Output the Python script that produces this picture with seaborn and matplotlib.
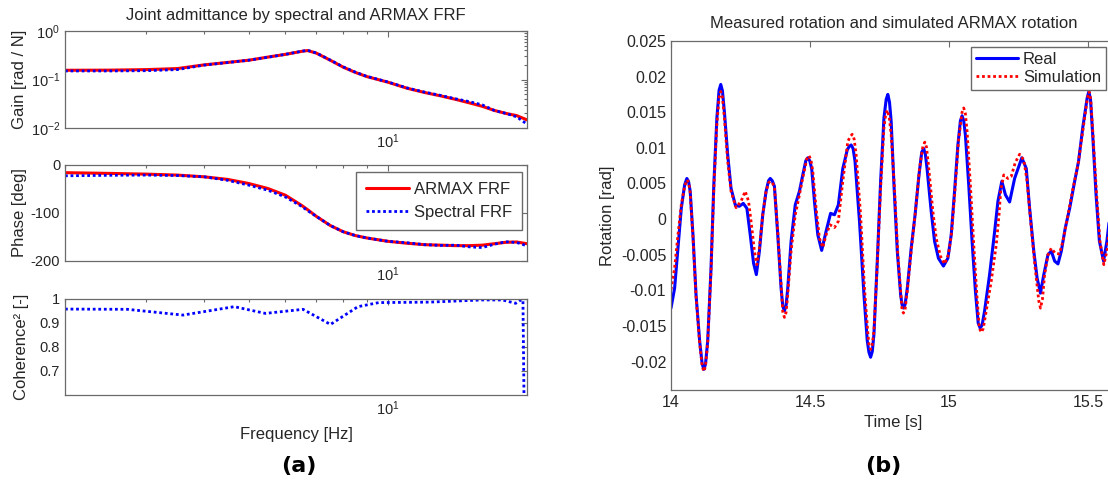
import numpy as np
import pandas as pd
import matplotlib
matplotlib.use("Agg")
import matplotlib.pyplot as plt
import seaborn as sns
from matplotlib.ticker import NullFormatter, FixedLocator, LogLocator

# ---------------- data ----------------
freq = [2, 2.5, 3, 3.5, 4, 4.5, 5, 5.5, 6, 6.5, 6.7, 7, 7.5, 8, 8.5, 9,
        10, 11, 12, 13, 14, 15, 16, 17, 18, 19, 20]
gain_armax = [0.155, 0.156, 0.160, 0.168, 0.200, 0.225, 0.250, 0.290, 0.330, 0.380, 0.395,
              0.350, 0.250, 0.180, 0.140, 0.115, 0.088, 0.066, 0.054, 0.046, 0.039,
              0.033, 0.028, 0.023, 0.020, 0.018, 0.0147]
gain_spec = [0.150, 0.150, 0.152, 0.160, 0.198, 0.224, 0.250, 0.288, 0.330, 0.382, 0.400,
             0.352, 0.252, 0.182, 0.142, 0.116, 0.089, 0.067, 0.055, 0.047, 0.040,
             0.035, 0.030, 0.023, 0.020, 0.017, 0.012]
phase_armax = [-16, -17.5, -19, -21, -24.6, -30, -38.6, -49, -63, -84, -93,
               -107, -126, -139, -147, -152, -159, -163, -166, -167, -168,
               -168, -167, -164, -161, -160.4, -164]
phase_spec = [-22.5, -21.5, -21, -22, -24.6, -32, -42, -52.6, -66.7, -86, -95,
              -107, -126, -139, -147, -152, -159, -162, -166, -167.5, -167,
              -170.5, -172, -165, -160, -161.4, -168.4]

coh_freq = [2.0, 2.73, 3.6, 4.65, 5.43, 6.55, 7.51, 8.61, 9.55, 12.3, 16.0, 17.7, 18.9,
            19.4, 19.6, 19.7]
coh_val = [0.958, 0.957, 0.933, 0.968, 0.940, 0.957, 0.894, 0.968, 0.985, 0.987, 0.996,
           0.996, 0.982, 0.996, 0.996, 0.600]

t_real = [14.000, 14.013, 14.025, 14.037, 14.049, 14.057, 14.063, 14.069, 14.079, 14.090, 14.103,
          14.112, 14.118, 14.124, 14.132, 14.144, 14.154, 14.165, 14.173, 14.179, 14.185, 14.192,
          14.204, 14.216, 14.232, 14.246, 14.260, 14.273, 14.285, 14.297, 14.307, 14.318, 14.330,
          14.342, 14.351, 14.357, 14.364, 14.372, 14.384, 14.396, 14.402, 14.408, 14.414, 14.420,
          14.432, 14.447, 14.462, 14.474, 14.485, 14.492, 14.499, 14.506, 14.516, 14.528, 14.542,
          14.558, 14.574, 14.588, 14.602, 14.618, 14.634, 14.641, 14.648, 14.655, 14.662, 14.678,
          14.694, 14.706, 14.712, 14.718, 14.724, 14.730, 14.742, 14.754, 14.766, 14.774, 14.780,
          14.786, 14.792, 14.802, 14.814, 14.826, 14.831, 14.836, 14.842, 14.850, 14.864, 14.878,
          14.892, 14.902, 14.909, 14.915, 14.921, 14.936, 14.948, 14.962, 14.980, 14.996, 15.008,
          15.020, 15.032, 15.041, 15.047, 15.053, 15.059, 15.071, 15.083, 15.095, 15.105, 15.112,
          15.119, 15.128, 15.146, 15.164, 15.176, 15.190, 15.203, 15.218, 15.236, 15.262, 15.278,
          15.290, 15.305, 15.317, 15.329, 15.341, 15.356, 15.368, 15.380, 15.392, 15.404, 15.418,
          15.434, 15.452, 15.466, 15.481, 15.497, 15.503, 15.509, 15.517, 15.529, 15.541, 15.556,
          15.568, 15.580]
rot_real = [-0.0125, -0.0097, -0.0041, 0.0015, 0.0048, 0.0057, 0.0053, 0.0039, -0.0022, -0.0106, -0.0171,
            -0.0203, -0.0211, -0.0204, -0.0171, -0.0069, 0.0048, 0.0142, 0.0181, 0.0189, 0.0180, 0.0151,
            0.0090, 0.0043, 0.0019, 0.0018, 0.0022, 0.0015, -0.0022, -0.0062, -0.0078, -0.0045, 0.0006,
            0.0039, 0.0054, 0.0057, 0.0054, 0.0046, -0.0022, -0.0097, -0.0122, -0.0129, -0.0121, -0.0097,
            -0.0031, 0.0020, 0.0039, 0.0062, 0.0082, 0.0086, 0.0082, 0.0071, 0.0025, -0.0022, -0.0044,
            -0.0017, 0.0008, 0.0006, 0.0020, 0.0071, 0.0097, 0.0102, 0.0104, 0.0099, 0.0081, -0.0003,
            -0.0106, -0.0171, -0.0187, -0.0194, -0.0186, -0.0162, -0.0059, 0.0053, 0.0142, 0.0168, 0.0175,
            0.0164, 0.0137, 0.0048, -0.0045, -0.0106, -0.0120, -0.0125, -0.0120, -0.0097, -0.0041, 0.0006,
            0.0062, 0.0094, 0.0099, 0.0091, 0.0071, 0.0011, -0.0031, -0.0055, -0.0066, -0.0055, -0.0022,
            0.0039, 0.0104, 0.0138, 0.0145, 0.0138, 0.0118, 0.0048, -0.0031, -0.0101, -0.0146, -0.0153,
            -0.0149, -0.0129, -0.0078, -0.0018, 0.0025, 0.0053, 0.0034, 0.0024, 0.0057, 0.0086, 0.0071,
            0.0015, -0.0045, -0.0083, -0.0104, -0.0078, -0.0050, -0.0045, -0.0059, -0.0063, -0.0045, -0.0013,
            0.0015, 0.0053, 0.0081, 0.0128, 0.0170, 0.0179, 0.0168, 0.0118, 0.0034, -0.0031, -0.0059,
            -0.0031, 0.0010]

t_sim = [14.000, 14.013, 14.025, 14.037, 14.049, 14.058, 14.064, 14.069, 14.079, 14.090, 14.103,
         14.112, 14.118, 14.124, 14.132, 14.144, 14.154, 14.165, 14.173, 14.179, 14.185, 14.192,
         14.204, 14.216, 14.234, 14.252, 14.267, 14.279, 14.291, 14.300, 14.309, 14.318, 14.330,
         14.342, 14.351, 14.357, 14.364, 14.372, 14.384, 14.396, 14.402, 14.408, 14.414, 14.420,
         14.432, 14.447, 14.462, 14.474, 14.489, 14.496, 14.503, 14.510, 14.522, 14.534, 14.546,
         14.558, 14.572, 14.588, 14.602, 14.618, 14.636, 14.645, 14.652, 14.659, 14.666, 14.682,
         14.696, 14.708, 14.712, 14.718, 14.724, 14.730, 14.742, 14.754, 14.766, 14.772, 14.778,
         14.785, 14.792, 14.804, 14.816, 14.828, 14.831, 14.836, 14.842, 14.850, 14.864, 14.878,
         14.894, 14.906, 14.913, 14.919, 14.926, 14.942, 14.954, 14.969, 14.984, 14.998, 15.010,
         15.022, 15.034, 15.047, 15.053, 15.059, 15.065, 15.077, 15.089, 15.101, 15.109, 15.116,
         15.123, 15.134, 15.152, 15.170, 15.180, 15.186, 15.197, 15.212, 15.224, 15.238, 15.254,
         15.269, 15.281, 15.296, 15.310, 15.323, 15.329, 15.336, 15.344, 15.356, 15.368, 15.382,
         15.397, 15.410, 15.428, 15.446, 15.464, 15.481, 15.498, 15.504, 15.510, 15.518, 15.531,
         15.543, 15.557, 15.568, 15.580]
rot_sim = [-0.0099, -0.0069, -0.0022, 0.0020, 0.0046, 0.0055, 0.0051, 0.0037, -0.0025, -0.0108, -0.0174,
           -0.0206, -0.0214, -0.0207, -0.0174, -0.0072, 0.0042, 0.0133, 0.0171, 0.0179, 0.0171, 0.0142,
           0.0081, 0.0039, 0.0016, 0.0025, 0.0039, 0.0025, -0.0013, -0.0045, -0.0064, -0.0041, 0.0006,
           0.0039, 0.0051, 0.0053, 0.0051, 0.0046, -0.0017, -0.0092, -0.0130, -0.0138, -0.0131, -0.0106,
           -0.0045, 0.0006, 0.0034, 0.0058, 0.0085, 0.0089, 0.0084, 0.0067, 0.0015, -0.0027, -0.0040,
           -0.0022, -0.0008, -0.0012, -0.0003, 0.0053, 0.0109, 0.0116, 0.0119, 0.0112, 0.0090, 0.0006,
           -0.0097, -0.0160, -0.0176, -0.0183, -0.0176, -0.0157, -0.0064, 0.0043, 0.0128, 0.0146, 0.0153,
           0.0143, 0.0118, 0.0043, -0.0050, -0.0111, -0.0127, -0.0132, -0.0127, -0.0101, -0.0045, 0.0006,
           0.0071, 0.0102, 0.0108, 0.0101, 0.0076, 0.0011, -0.0027, -0.0052, -0.0063, -0.0050, -0.0017,
           0.0043, 0.0109, 0.0150, 0.0156, 0.0148, 0.0123, 0.0048, -0.0036, -0.0111, -0.0153, -0.0159,
           -0.0154, -0.0129, -0.0087, -0.0036, 0.0006, 0.0040, 0.0062, 0.0057, 0.0060, 0.0079, 0.0091,
           0.0083, 0.0053, -0.0013, -0.0069, -0.0115, -0.0125, -0.0113, -0.0078, -0.0050, -0.0041, -0.0048,
           -0.0049, -0.0031, 0.0006, 0.0043, 0.0076, 0.0123, 0.0170, 0.0179, 0.0168, 0.0118, 0.0034,
           -0.0031, -0.0064, -0.0045, -0.0005]

rot_yticks = [-0.02, -0.015, -0.01, -0.005, 0, 0.005, 0.01, 0.015, 0.02, 0.025]
rot_yticklabels = ["-0.02", "-0.015", "-0.01", "-0.005", "0", "0.005", "0.01", "0.015", "0.02", "0.025"]
rot_xticks = [14, 14.5, 15, 15.5]
rot_xticklabels = ["14", "14.5", "15", "15.5"]
coh_yticks = [0.7, 0.8, 0.9, 1.0]
coh_yticklabels = ["0.7", "0.8", "0.9", "1"]
phase_yticks = [-200, -100, 0]

# ---------------- style ----------------
sns.set_style("white")
plt.rcParams["font.family"] = ["Liberation Sans", "DejaVu Sans"]
plt.rcParams["mathtext.fontset"] = "custom"
plt.rcParams["mathtext.rm"] = "Liberation Sans"
plt.rcParams["mathtext.it"] = "Liberation Sans:italic"
plt.rcParams["mathtext.bf"] = "Liberation Sans:bold"

SPINE = "#6a6a6a"
TXT = "#262626"
BLUE = "#0000ff"
RED = "#ff0000"
DOT = (0, (1, 1))
W, H = 1108, 487

fig = plt.figure(figsize=(W / 100, H / 100), dpi=100)


def pos(left, top, right, bottom):
    return [left / W, 1 - bottom / H, (right - left) / W, (bottom - top) / H]


def matlab_axes(ax, fs):
    for s in ax.spines.values():
        s.set_visible(True)
        s.set_color(SPINE)
        s.set_linewidth(0.9)
    ax.tick_params(which="both", direction="in", top=True, right=True,
                   color=SPINE, labelcolor=TXT, labelsize=fs, width=0.8)
    ax.tick_params(which="major", length=4)
    ax.tick_params(which="minor", length=2)


ax_g = fig.add_axes(pos(65, 31, 527, 128))
ax_p = fig.add_axes(pos(65, 165, 527, 261))
ax_c = fig.add_axes(pos(65, 299, 527, 395))
ax_r = fig.add_axes(pos(671, 41, 671 + 1.6 * 278, 390))

# Gain
sns.lineplot(x=freq, y=gain_armax, ax=ax_g, color=RED, lw=2.2, label="ARMAX FRF")
sns.lineplot(x=freq, y=gain_spec, ax=ax_g, color=BLUE, lw=2.0, linestyle=DOT, label="Spectral FRF")
# Phase
sns.lineplot(x=freq, y=phase_armax, ax=ax_p, color=RED, lw=2.2, label="ARMAX FRF")
sns.lineplot(x=freq, y=phase_spec, ax=ax_p, color=BLUE, lw=2.0, linestyle=DOT, label="Spectral FRF")
# Coherence
sns.lineplot(x=coh_freq, y=coh_val, ax=ax_c, color=BLUE, lw=2.0, linestyle=DOT)

for ax in (ax_g, ax_p, ax_c):
    ax.set_xscale("log")
    ax.set_xlim(2, 20)
    ax.xaxis.set_major_locator(FixedLocator([10]))
    ax.xaxis.set_minor_locator(LogLocator(base=10, subs=np.arange(2, 10)))
    ax.xaxis.set_minor_formatter(NullFormatter())
    ax.set_xticklabels(["$10^{1}$"])
    matlab_axes(ax, 10.5)
    ax.set_xlabel("")

ax_g.set_yscale("log")
ax_g.set_ylim(1e-2, 1e0)
ax_g.yaxis.set_major_locator(FixedLocator([1e-2, 1e-1, 1e0]))
ax_g.set_yticklabels(["$10^{-2}$", "$10^{-1}$", "$10^{0}$"])
ax_g.yaxis.set_minor_locator(LogLocator(base=10, subs=np.arange(2, 10)))
ax_g.yaxis.set_minor_formatter(NullFormatter())
ax_g.set_ylabel("Gain [rad / N]", fontsize=12, color=TXT)
ax_g.yaxis.set_label_coords(-0.082, 0.5)
ax_g.set_title("Joint admittance by spectral and ARMAX FRF", fontsize=12, color=TXT, pad=8)
ax_g.get_legend().remove()

ax_p.set_ylim(-200, 0)
ax_p.set_yticks(phase_yticks)
ax_p.set_yticklabels([str(v) for v in phase_yticks])
ax_p.set_ylabel("Phase [deg]", fontsize=12, color=TXT)
ax_p.yaxis.set_label_coords(-0.082, 0.5)
ax_p.legend(loc="upper right", bbox_to_anchor=(522 / W, 1 - 172 / H), bbox_transform=fig.transFigure,
            borderaxespad=0, fontsize=12, frameon=True, fancybox=False, framealpha=1,
            edgecolor=SPINE, handlelength=2.6, handletextpad=0.3, borderpad=0.6,
            labelspacing=0.5, labelcolor=TXT)

ax_c.set_ylim(0.6, 1.0)
ax_c.set_yticks(coh_yticks)
ax_c.set_yticklabels(coh_yticklabels)
ax_c.set_ylabel("Coherence² [-]", fontsize=12, color=TXT)
ax_c.yaxis.set_label_coords(-0.078, 0.5)
ax_c.set_xlabel("Frequency [Hz]", fontsize=12, color=TXT, labelpad=6)

# Rotation
sns.lineplot(x=t_real, y=rot_real, ax=ax_r, color=BLUE, lw=2.2, label="Real")
sns.lineplot(x=t_sim, y=rot_sim, ax=ax_r, color=RED, lw=2.0, linestyle=DOT, label="Simulation")
ax_r.set_xlim(14, 15.6)
ax_r.set_ylim(-0.024, 0.025)
ax_r.set_xticks(rot_xticks)
ax_r.set_xticklabels(rot_xticklabels)
ax_r.set_yticks(rot_yticks)
ax_r.set_yticklabels(rot_yticklabels)
matlab_axes(ax_r, 11.5)
ax_r.set_xlabel("Time [s]", fontsize=12, color=TXT, labelpad=4)
ax_r.set_ylabel("Rotation [rad]", fontsize=12, color=TXT)
ax_r.set_title("Measured rotation and simulated ARMAX rotation", fontsize=12, color=TXT, pad=9)
ax_r.legend(loc="upper right", bbox_to_anchor=(1106 / W, 1 - 47 / H), bbox_transform=fig.transFigure,
            borderaxespad=0, fontsize=12, frameon=True, fancybox=False, framealpha=1,
            edgecolor=SPINE, handlelength=2.5, handletextpad=0.3, borderpad=0.3,
            labelspacing=0.2, labelcolor=TXT)

fig.text(299 / W, 1 - 466 / H, "(a)", ha="center", va="center", fontsize=16,
         fontweight="bold", family="DejaVu Sans", color="black")
fig.text(883 / W, 1 - 466 / H, "(b)", ha="center", va="center", fontsize=16,
         fontweight="bold", family="DejaVu Sans", color="black")

fig.savefig("out.png", dpi=100)
